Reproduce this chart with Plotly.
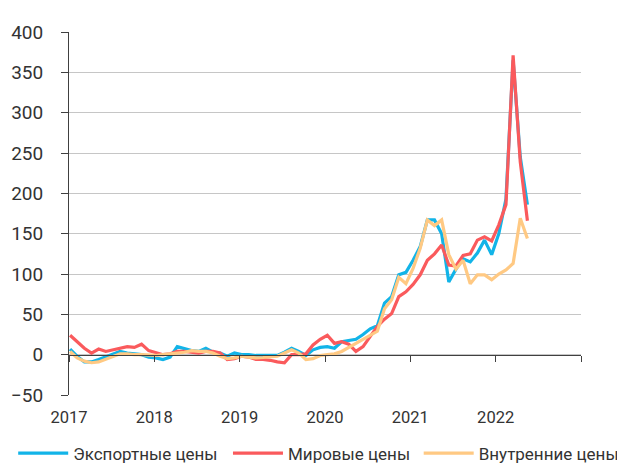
import numpy as np
import pandas as pd
import plotly.graph_objects as go

months = pd.date_range("2017-01-01", "2022-05-01", freq="MS")

export_prices = [7, -2, -9, -9, -6, -3, 1, 4, 2, 1, 0, -3,
                 -4, -6, -3, 10, 7, 5, 4, 8, 3, 2, -2, 2,
                 0, 0, -1, -1, -1, -1, 3, 8, 4, -1, 6, 9,
                 10, 8, 16, 18, 19, 25, 32, 36, 64, 72, 99, 102,
                 117, 134, 167, 167, 150, 90, 106, 119, 115, 126, 142, 124,
                 150, 193, 365, 245, 186]

world_prices = [24, 16, 8, 2, 7, 4, 6, 8, 10, 9, 13, 5,
                2, 0, 1, 4, 4, 3, 2, 4, 4, 2, -6, -5,
                -2, -3, -6, -6, -7, -9, -10, 0, 0, 1, 12, 19,
                24, 14, 16, 13, 4, 10, 22, 35, 44, 51, 72, 78,
                87, 99, 117, 125, 136, 111, 110, 123, 125, 142, 146, 141,
                161, 186, 371, 239, 166]

domestic_prices = [4, -4, -8, -10, -9, -6, -2, 1, 1, 0, 0, -1,
                   -1, 0, 1, 2, 3, 5, 4, 4, 2, -2, -5, -4,
                   -2, -3, -4, -3.5, -3, -2, 2, 6, 2, -6, -5, -1,
                   0, 1, 4, 9, 14, 19, 24, 29, 57, 68, 96, 88,
                   107, 132, 167, 160, 167, 124, 106, 117, 88, 99, 99, 93,
                   100, 105, 113, 169, 144]

year_labels = ["2017", "2018", "2019", "2020", "2021", "2022", ""]
y_ticks = [-50, 0, 50, 100, 150, 200, 250, 300, 350, 400]

series_names = ["Экспортные цены", "Мировые цены", "Внутренние цены"]
colors = ["#12B4E8", "#FA5A5C", "#FFC983"]

# month index on a numeric axis
x_idx = [(d.year - 2017) * 12 + d.month - 1 for d in months]

x_range = [-0.15, 71.5]
tick_pos = list(np.linspace(x_range[0], x_range[1], 7))

legend_ids = ["legend", "legend2", "legend3"]
legend_x = [-0.109, 0.3105, 0.683]

fig = go.Figure()
for name, vals, col, lg in zip(series_names, [export_prices, world_prices, domestic_prices],
                               colors, legend_ids):
    fig.add_trace(go.Scatter(x=x_idx, y=vals, mode="lines", name=name, legend=lg,
                             line=dict(color=col, width=3.2)))
# helper trace so the zero-level axis (x2) is drawn
fig.add_trace(go.Scatter(x=[None], y=[None], xaxis="x2", showlegend=False,
                         hoverinfo="skip", mode="lines"))

font_family = "Roboto, Arial, sans-serif"
legend_common = dict(orientation="h", xanchor="left", y=-0.112, yanchor="top",
                     font=dict(size=17, color="#333333"), itemwidth=50,
                     bgcolor="rgba(0,0,0,0)")

fig.update_layout(
    width=625, height=464,
    margin=dict(l=61, r=52, t=24, b=77, autoexpand=False),
    paper_bgcolor="white", plot_bgcolor="white",
    font=dict(family=font_family, size=17, color="#333333"),
    showlegend=True,
    legend=dict(x=legend_x[0], **legend_common),
    legend2=dict(x=legend_x[1], **legend_common),
    legend3=dict(x=legend_x[2], **legend_common),
    xaxis=dict(range=x_range, tickmode="array", tickvals=tick_pos, ticktext=year_labels,
               showgrid=False, zeroline=False, showline=False, ticks="",
               tickfont=dict(size=16.5), ticklabelstandoff=10, fixedrange=True),
    xaxis2=dict(range=x_range, overlaying="x", anchor="free", position=50 / 450,
                tickmode="array", tickvals=tick_pos, showticklabels=False,
                showgrid=False, zeroline=False, showline=True, linecolor="#404040",
                linewidth=1, ticks="outside", ticklen=6, tickcolor="#404040", side="bottom"),
    yaxis=dict(range=[-50, 400], tickmode="array", tickvals=y_ticks,
               showgrid=True, gridcolor="#C6C6C6", gridwidth=1, zeroline=False,
               showline=True, linecolor="#404040", linewidth=1, tickfont=dict(size=19),
               ticks="outside", ticklen=7, tickcolor="#404040", ticklabelstandoff=14),
)

fig.write_html("out.html")
